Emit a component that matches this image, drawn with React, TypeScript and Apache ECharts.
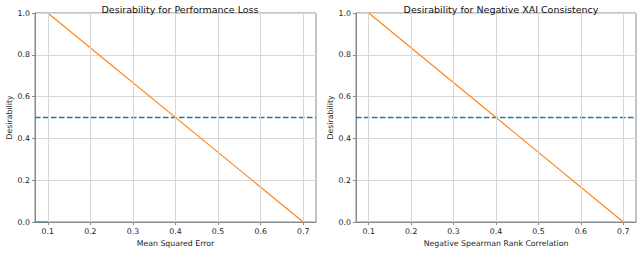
import React, { useEffect, useRef } from "react";
import * as echarts from "echarts";

const titles = ["Desirability for Performance Loss", "Desirability for Negative XAI Consistency"];
const xNames = ["Mean Squared Error", "Negative Spearman Rank Correlation"];
const yName = "Desirability";
const xTicks = [0.1, 0.2, 0.3, 0.4, 0.5, 0.6, 0.7];
const yTicks = [0.0, 0.2, 0.4, 0.6, 0.8, 1.0];
const xRange = [0.07, 0.73];
const desirabilityLine = [
  [0.1, 1.0],
  [0.7, 0.0],
];
const threshold = 0.5;
const lowSegment = [
  [0.07, 0.0],
  [0.1, 0.0],
];

const FONT = "DejaVu Sans";
const ORANGE = "#ff7f0e";
const BLUE = "#1f77b4";
const GRIDC = "#d8d8d8";
const SPINE = "#8a8a8a";

export default function App() {
  const ref = useRef<HTMLDivElement>(null);
  useEffect(() => {
    if (!ref.current) return;
    const chart = echarts.init(ref.current, null, { renderer: "svg" });
    const grids = [
      { left: 35, top: 13, width: 281, height: 209 },
      { left: 356, top: 13, width: 280, height: 209 },
    ];
    const xAxes = grids.map((_, i) => ({
      type: "value",
      gridIndex: i,
      min: xRange[0],
      max: xRange[1],
      name: xNames[i],
      nameLocation: "middle",
      nameGap: 16,
      nameTextStyle: { fontFamily: FONT, fontSize: 7.8, color: "#222" },
      axisLine: { show: true, lineStyle: { color: SPINE, width: 1 } },
      axisTick: { show: true, length: 3, customValues: xTicks, lineStyle: { color: SPINE } },
      axisLabel: {
        customValues: xTicks,
        margin: 5,
        fontFamily: FONT,
        fontSize: 7.8,
        color: "#222",
        formatter: (v: number) => v.toFixed(1),
      },
      splitLine: { show: false },
    }));
    const yAxes = grids.map((_, i) => ({
      type: "value",
      gridIndex: i,
      min: yTicks[0],
      max: yTicks[yTicks.length - 1],
      interval: 0.2,
      name: yName,
      nameLocation: "middle",
      nameGap: 22,
      nameTextStyle: { fontFamily: FONT, fontSize: 7.8, color: "#222" },
      axisLine: { show: true, lineStyle: { color: SPINE, width: 1 } },
      axisTick: { show: true, length: 3, lineStyle: { color: SPINE } },
      axisLabel: {
        margin: 5,
        fontFamily: FONT,
        fontSize: 7.8,
        color: "#222",
        formatter: (v: number) => v.toFixed(1),
      },
      splitLine: { show: true, lineStyle: { color: GRIDC, width: 1 } },
    }));
    const series: any[] = [];
    grids.forEach((_, i) => {
      series.push({
        type: "line",
        xAxisIndex: i,
        yAxisIndex: i,
        data: [],
        silent: true,
        markLine: {
          symbol: "none",
          silent: true,
          label: { show: false },
          lineStyle: { color: GRIDC, width: 1, type: "solid" },
          data: xTicks.map((x) => ({ xAxis: x })),
          animation: false,
        },
      });
      series.push({
        type: "line",
        xAxisIndex: i,
        yAxisIndex: i,
        data: [
          [xRange[0], threshold],
          [xRange[1], threshold],
        ],
        symbol: "none",
        color: BLUE,
        itemStyle: { color: BLUE },
        lineStyle: { color: BLUE, width: 1.3, type: [5.5, 2.5], opacity: 1 },
      });
      if (i === 0) {
        series.push({
          type: "line",
          xAxisIndex: i,
          yAxisIndex: i,
          data: lowSegment,
          symbol: "none",
          color: BLUE,
          lineStyle: { color: BLUE, width: 1.2 },
        });
      }
      series.push({
        type: "line",
        xAxisIndex: i,
        yAxisIndex: i,
        data: desirabilityLine,
        symbol: "none",
        color: ORANGE,
        lineStyle: { color: ORANGE, width: 1.1 },
      });
    });
    chart.setOption({
      animation: false,
      backgroundColor: "#ffffff",
      title: [
        {
          text: titles[0],
          left: 175,
          textAlign: "center",
          top: -1,
          textStyle: { fontFamily: FONT, fontSize: 9.5, fontWeight: "normal", color: "#111" },
        },
        {
          text: titles[1],
          left: 496,
          textAlign: "center",
          top: -1,
          textStyle: { fontFamily: FONT, fontSize: 9.5, fontWeight: "normal", color: "#111" },
        },
      ],
      grid: grids.map((g) => ({ ...g, show: true, borderColor: SPINE, borderWidth: 1, backgroundColor: "transparent" })),
      xAxis: xAxes,
      yAxis: yAxes,
      series,
    });
    return () => chart.dispose();
  }, []);
  return (
    <div
      ref={ref}
      style={{ position: "fixed", left: 0, top: 0, width: 640, height: 264, background: "#fff" }}
    />
  );
}
